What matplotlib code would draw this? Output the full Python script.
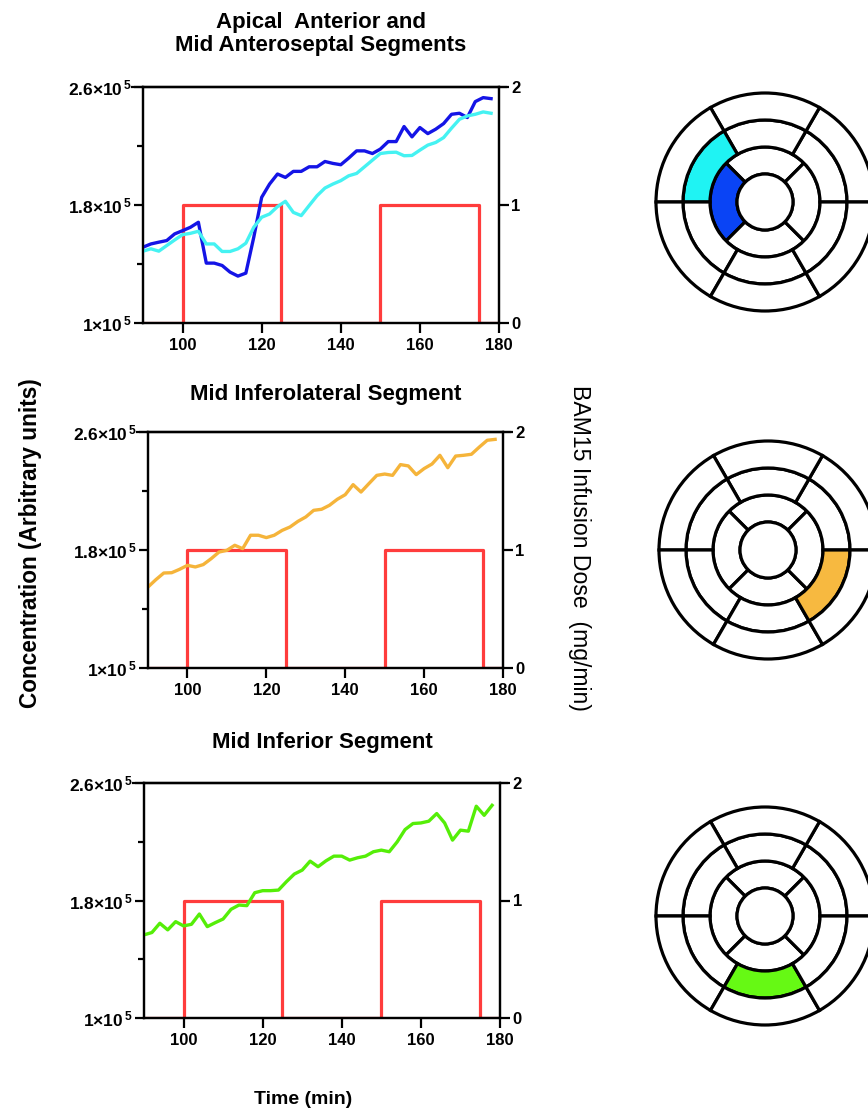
import numpy as np
import matplotlib
matplotlib.use("Agg")
import matplotlib.pyplot as plt
from matplotlib.patches import Wedge

plt.rcParams['font.family'] = ['Liberation Sans', 'DejaVu Sans']
plt.rcParams['mathtext.fontset'] = 'custom'
plt.rcParams['mathtext.rm'] = 'Liberation Sans:bold'
plt.rcParams['mathtext.bf'] = 'Liberation Sans:bold'
plt.rcParams['mathtext.it'] = 'Liberation Sans:bold'

# ---- data ----
time = [90, 92, 94, 96, 98, 100, 102, 104, 106, 108, 110, 112, 114, 116, 118,
        120, 122, 124, 126, 128, 130, 132, 134, 136, 138, 140, 142, 144, 146, 148,
        150, 152, 154, 156, 158, 160, 162, 164, 166, 168, 170, 172, 174, 176, 178]

# concentrations in units of 1e5
apical_anterior = [1.514, 1.536, 1.548, 1.559, 1.604, 1.626, 1.649, 1.683, 1.406, 1.406,
                   1.390, 1.345, 1.318, 1.338, 1.581, 1.852, 1.942, 2.010, 1.987, 2.028,
                   2.028, 2.059, 2.059, 2.095, 2.082, 2.073, 2.118, 2.167, 2.167, 2.149,
                   2.179, 2.230, 2.230, 2.332, 2.262, 2.325, 2.284, 2.314, 2.352, 2.415,
                   2.422, 2.393, 2.501, 2.528, 2.521]
mid_anteroseptal = [1.487, 1.503, 1.487, 1.525, 1.563, 1.599, 1.608, 1.622, 1.536, 1.536,
                    1.485, 1.485, 1.503, 1.541, 1.649, 1.717, 1.739, 1.789, 1.825, 1.750,
                    1.728, 1.796, 1.863, 1.915, 1.942, 1.965, 1.998, 2.014, 2.059, 2.104,
                    2.149, 2.156, 2.158, 2.134, 2.136, 2.172, 2.206, 2.224, 2.257, 2.321,
                    2.381, 2.404, 2.415, 2.431, 2.422]
mid_inferolateral = [1.549, 1.599, 1.644, 1.646, 1.669, 1.696, 1.685, 1.701, 1.741, 1.786,
                     1.798, 1.832, 1.809, 1.900, 1.900, 1.884, 1.900, 1.933, 1.956, 1.994,
                     2.024, 2.069, 2.076, 2.103, 2.144, 2.175, 2.243, 2.193, 2.250, 2.306,
                     2.315, 2.306, 2.379, 2.370, 2.311, 2.352, 2.383, 2.442, 2.358, 2.437,
                     2.442, 2.449, 2.498, 2.544, 2.550]
mid_inferior = [1.566, 1.582, 1.645, 1.600, 1.656, 1.627, 1.638, 1.708, 1.622, 1.649,
                1.674, 1.740, 1.769, 1.765, 1.853, 1.867, 1.867, 1.871, 1.928, 1.980,
                2.007, 2.068, 2.030, 2.070, 2.102, 2.102, 2.075, 2.091, 2.102, 2.132,
                2.143, 2.132, 2.199, 2.283, 2.324, 2.328, 2.340, 2.392, 2.328, 2.211,
                2.279, 2.272, 2.442, 2.380, 2.448]

dose_time = [90, 100, 100, 125, 125, 150, 150, 175, 175, 180]
dose = [0, 0, 1, 1, 0, 0, 1, 1, 0, 0]

titles = [["Apical  Anterior and", "Mid Anteroseptal Segments"],
          ["Mid Inferolateral Segment"],
          ["Mid Inferior Segment"]]

ytick_vals = [1.0, 1.8, 2.6]
ytick_labels = [r'$1{\times}10^{\,5}$', r'$1.8{\times}10^{\,5}$', r'$2.6{\times}10^{\,5}$']

# bullseye highlights: (ring, start angle, end angle, colour)
highlights = [
    [("mid", 120, 180, "#1ff3f3"), ("apical", 135, 225, "#0a44f5")],
    [("mid", 300, 360, "#f7b940")],
    [("mid", 240, 300, "#66f914")],
]

W, H = 868, 1113
fig = plt.figure(figsize=(W / 100, H / 100), dpi=100)

def px_axes(left, top, right, bottom):
    return fig.add_axes([left / W, 1 - bottom / H, (right - left) / W, (bottom - top) / H])

axes_px = [(143, 87, 499, 323), (148, 432, 503, 668), (144, 783, 500, 1018)]
series = [[(apical_anterior, "#1414e6"), (mid_anteroseptal, "#45f2f2")],
          [(mid_inferolateral, "#f5b43a")],
          [(mid_inferior, "#55ee08")]]
title_base = [[28, 51], [400], [748]]

for i, box in enumerate(axes_px):
    ax = px_axes(*box)
    ax2 = ax.twinx()
    ax2.plot(dose_time, dose, color="#ff3c3c", lw=2.3, zorder=1)
    ax2.set_ylim(0, 2)
    ax2.set_yticks([0, 1, 2])
    ax2.set_yticklabels(["0", "1", "2"], fontsize=12, fontweight='bold')
    ax2.tick_params(axis='y', direction='out', length=7, width=1.6, pad=2)
    ax.set_zorder(ax2.get_zorder() + 1)
    ax.patch.set_visible(False)

    for vals, col in series[i]:
        ax.plot(time, np.array(vals), color=col, lw=2.4)
    ax.set_xlim(90, 180)
    ax.set_ylim(1.0, 2.6)
    ax.set_xticks([100, 120, 140, 160, 180])
    ax.set_xticklabels(["100", "120", "140", "160", "180"], fontsize=12, fontweight='bold')
    ax.set_yticks(ytick_vals)
    ax.set_yticklabels(ytick_labels, fontsize=12.5)
    ax.set_yticks([1.4, 2.2], minor=True)
    ax.tick_params(axis='x', which='major', direction='out', length=7, width=1.6, pad=3.5)
    ax.tick_params(axis='y', which='major', direction='out', length=6.5, width=1.6, pad=1.5)
    ax.tick_params(axis='y', which='minor', direction='out', length=4.5, width=1.6)
    for a in (ax, ax2):
        for s in a.spines.values():
            s.set_linewidth(1.6)
    ax.plot([-0.03, 1.02], [1, 1], transform=ax.transAxes, color='black', lw=1.6, clip_on=False)

    cx = (box[0] + box[2]) / 2
    for line, yb in zip(titles[i], title_base[i]):
        fig.text(cx / W, 1 - yb / H, line, ha='center', va='baseline',
                 fontsize=16, fontweight='bold')

fig.text(31 / W, 1 - 543 / H, "Concentration (Arbitrary units)", rotation=90,
         ha='center', va='center', fontsize=16.3, fontweight='bold')
fig.text(579 / W, 1 - 548 / H, "BAM15 Infusion Dose  (mg/min)", rotation=-90,
         ha='center', va='center', fontsize=16.6)
fig.text(303 / W, 1 - 1100 / H, "Time (min)", ha='center', va='center',
         fontsize=14, fontweight='bold')

# ---- bullseye plots ----
radii = {"apex": (0, 28), "apical": (28, 55), "mid": (55, 82), "basal": (82, 109)}
bounds = {"apical": [45, 135, 225, 315, 405], "mid": [0, 60, 120, 180, 240, 300, 360],
          "basal": [0, 60, 120, 180, 240, 300, 360]}
centers = [(765, 202), (768, 550), (765, 916)]

for i, (cx, cy) in enumerate(centers):
    bx = px_axes(cx - 125, cy - 125, cx + 125, cy + 125)
    bx.set_xlim(-125, 125)
    bx.set_ylim(-125, 125)
    bx.axis('off')
    fills = {}
    for ring, a0, a1, col in highlights[i]:
        fills[(ring, a0 % 360)] = col
    for ring, b in bounds.items():
        r0, r1 = radii[ring]
        for a0, a1 in zip(b[:-1], b[1:]):
            col = fills.get((ring, a0 % 360), "white")
            bx.add_patch(Wedge((0, 0), r1, a0, a1, width=r1 - r0, facecolor=col,
                               edgecolor='black', lw=2.3))
    bx.add_patch(Wedge((0, 0), 28, 0, 360, facecolor='white', edgecolor='black', lw=2.3))

fig.savefig("out.png", dpi=100)
